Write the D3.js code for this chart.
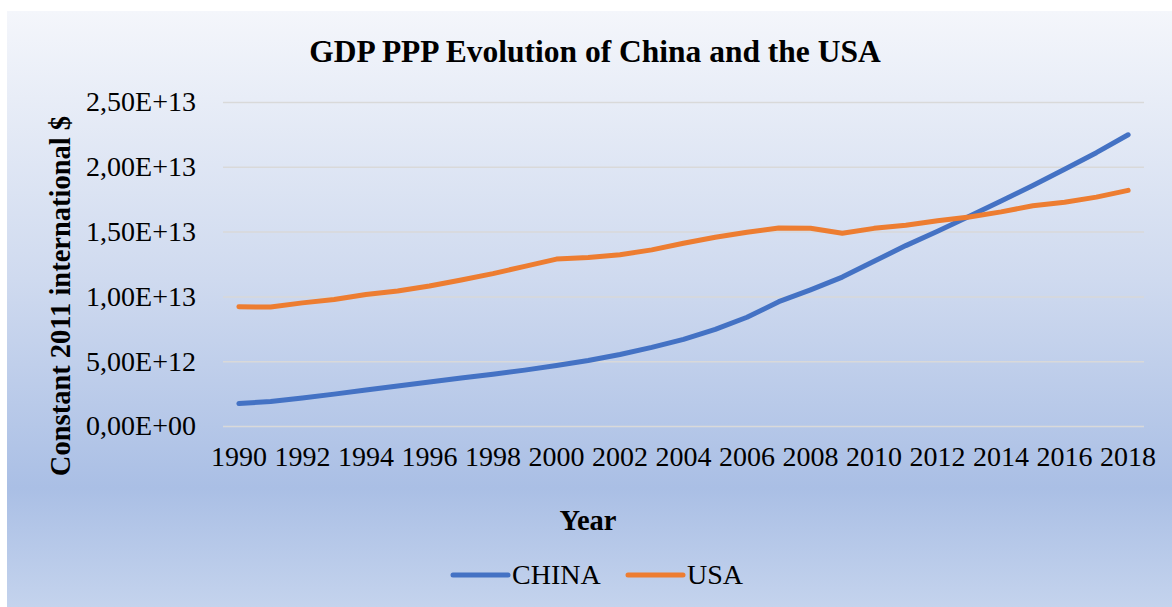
<!DOCTYPE html>
<html>
<head>
<meta charset="utf-8">
<script src="https://cdn.jsdelivr.net/npm/d3@7"></script>
<style>
	body { margin: 0; background: #fff; }
	text { font-family: "Liberation Serif", "Times New Roman", serif; fill: #000; }
</style>
</head>
<body>
<svg id="chart"></svg>
<script>
const width = 1172
const height = 607

// data
const years = d3.range(1990, 2019)
const tickYears = years.filter(y => y % 2 === 0)
const china = [1.73e12, 1.89e12, 2.16e12, 2.46e12, 2.78e12, 3.09e12, 3.40e12, 3.71e12, 4.00e12, 4.31e12,
	4.67e12, 5.06e12, 5.52e12, 6.07e12, 6.68e12, 7.45e12, 8.39e12, 9.59e12, 1.051e13, 1.149e13,
	1.271e13, 1.392e13, 1.502e13, 1.618e13, 1.736e13, 1.856e13, 1.981e13, 2.109e13, 2.247e13]
const usa = [9.20e12, 9.18e12, 9.50e12, 9.76e12, 1.015e13, 1.041e13, 1.080e13, 1.127e13, 1.176e13, 1.232e13,
	1.288e13, 1.300e13, 1.322e13, 1.359e13, 1.410e13, 1.456e13, 1.495e13, 1.527e13, 1.526e13, 1.487e13,
	1.525e13, 1.549e13, 1.584e13, 1.613e13, 1.652e13, 1.700e13, 1.727e13, 1.766e13, 1.818e13]
const yTicks = [0, 5e12, 1e13, 1.5e13, 2e13, 2.5e13]
const seriesNames = ["CHINA", "USA"]
const seriesColors = ["#4472C4", "#ED7D31"]

const plot = { left: 223, right: 1144, top: 102, bottom: 426 }

const svg = d3.select("#chart")
	.attr("width", width)
	.attr("height", height)

// background gradient like the office chart style
const grad = svg.append("defs").append("linearGradient")
	.attr("id", "bg")
	.attr("x1", 0).attr("y1", 0).attr("x2", 0).attr("y2", 1)
grad.selectAll("stop")
	.data([
		{ o: 0, c: "#f4f6fb" },
		{ o: 0.45, c: "#cfdaef" },
		{ o: 0.8, c: "#aabfe5" },
		{ o: 1, c: "#c4d3ed" }
	])
	.enter().append("stop")
	.attr("offset", d => d.o)
	.attr("stop-color", d => d.c)

svg.append("rect")
	.attr("x", 7).attr("y", 11)
	.attr("width", width - 7).attr("height", height - 11)
	.attr("fill", "url(#bg)")

const x = d3.scaleBand()
	.domain(years)
	.range([plot.left, plot.right])

const y = d3.scaleLinear()
	.domain([0, 2.5e13])
	.range([plot.bottom, plot.top])

const fmt = v => {
	const s = v.toExponential(2).replace(".", ",").toUpperCase()
	return s.replace(/E([+-])(\d)$/, "E$10$2")
}

// gridlines + y labels
const yAxis = d3.axisLeft(y)
	.tickValues(yTicks)
	.tickSize(-(plot.right - plot.left))
	.tickPadding(27)
	.tickFormat(fmt)

const gy = svg.append("g")
	.attr("transform", `translate(${plot.left},0)`)
	.call(yAxis)
gy.select(".domain").remove()
gy.selectAll("line").attr("stroke", "#d9d9d9").attr("stroke-width", 1.5)
gy.selectAll("text")
	.style("font-size", "28px")
	.attr("font-family", null)

// x labels
const xAxis = d3.axisBottom(x)
	.tickValues(tickYears)
	.tickSize(0)
	.tickPadding(20)

const gx = svg.append("g")
	.attr("transform", `translate(0,${plot.bottom})`)
	.call(xAxis)
gx.select(".domain").remove()
gx.selectAll("text")
	.style("font-size", "28px")
	.attr("font-family", null)

// lines
const line = d3.line()
	.x((d, i) => x(years[i]) + x.bandwidth() / 2)
	.y(d => y(d))

svg.selectAll(".series")
	.data([china, usa])
	.enter().append("path")
	.attr("class", "series")
	.attr("d", line)
	.attr("fill", "none")
	.attr("stroke", (d, i) => seriesColors[i])
	.attr("stroke-width", 5)
	.attr("stroke-linejoin", "round")
	.attr("stroke-linecap", "round")

// titles
svg.append("text")
	.attr("x", 595).attr("y", 62)
	.attr("text-anchor", "middle")
	.style("font-size", "31.5px")
	.style("font-weight", "bold")
	.text("GDP PPP Evolution of China and the USA")

svg.append("text")
	.attr("transform", "translate(70,296) rotate(-90)")
	.attr("text-anchor", "middle")
	.style("font-size", "28.5px")
	.style("font-weight", "bold")
	.text("Constant 2011 international $")

svg.append("text")
	.attr("x", 588).attr("y", 530)
	.attr("text-anchor", "middle")
	.style("font-size", "28.5px")
	.style("font-weight", "bold")
	.text("Year")

// legend
const legendX = [453, 628]
const legend = svg.selectAll(".legend")
	.data(seriesNames)
	.enter().append("g")
	.attr("class", "legend")
	.attr("transform", (d, i) => `translate(${legendX[i]},575)`)
legend.append("line")
	.attr("x1", 0).attr("x2", 55)
	.attr("stroke", (d, i) => seriesColors[i])
	.attr("stroke-width", 5)
	.attr("stroke-linecap", "round")
legend.append("text")
	.attr("x", 59).attr("y", 9)
	.style("font-size", "28px")
	.text(d => d)
</script>
</body>
</html>
